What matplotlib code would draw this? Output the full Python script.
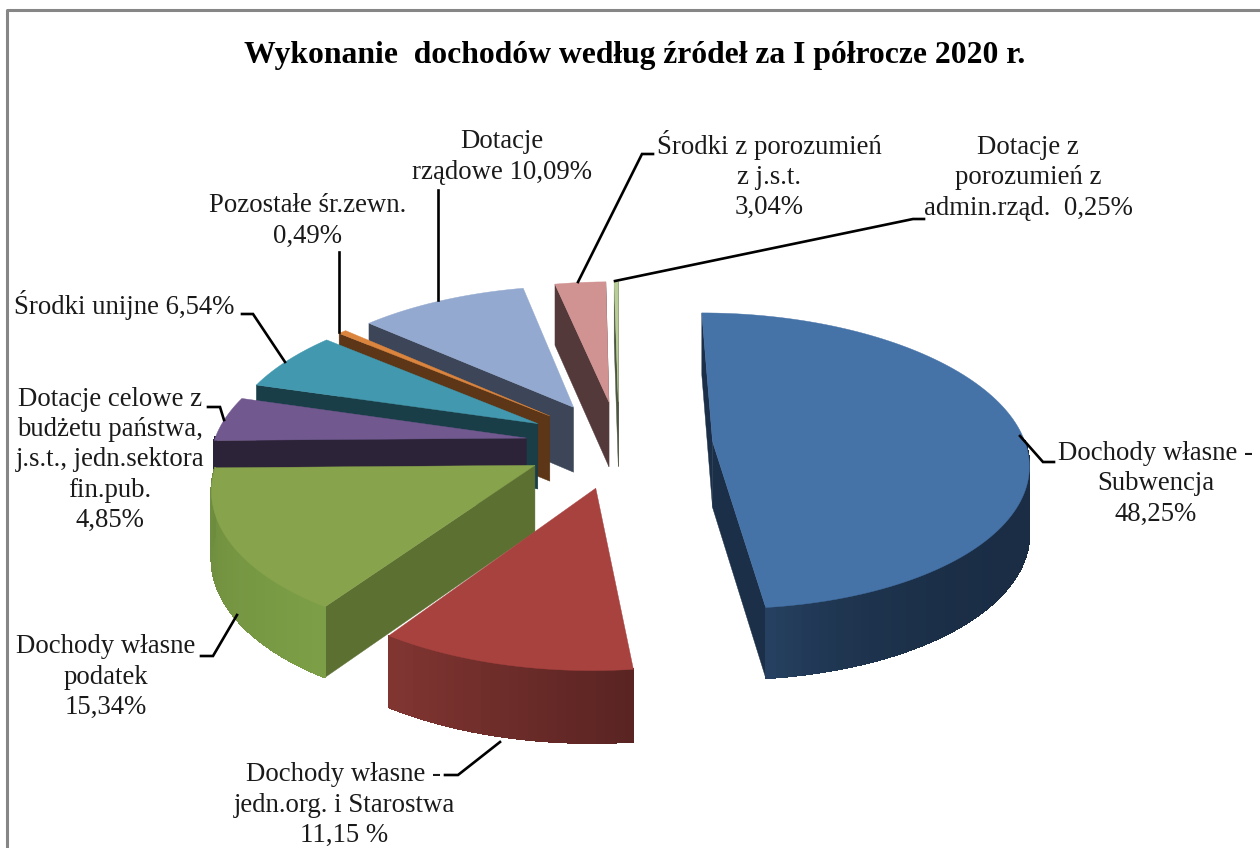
import matplotlib
matplotlib.use('Agg')
import matplotlib.pyplot as plt
import numpy as np

plt.rcParams['font.family'] = ['Liberation Serif', 'DejaVu Serif']

values = [48.25, 11.15, 15.34, 4.85, 6.54, 0.49, 10.09, 3.04, 0.25]
labels = ['Dochody własne -\nSubwencja\n48,25%',
          'Dochody własne -\njedn.org. i Starostwa\n11,15 %',
          'Dochody własne\npodatek\n15,34%',
          'Dotacje celowe z\nbudżetu państwa,\nj.s.t., jedn.sektora\nfin.pub.\n4,85%',
          'Środki unijne 6,54%',
          'Pozostałe śr.zewn.\n0,49%',
          'Dotacje\nrządowe 10,09%',
          'Środki z porozumień\nz j.s.t.\n3,04%',
          'Dotacje z\nporozumień z\nadmin.rząd.  0,25%']
title = 'Wykonanie  dochodów według źródeł za I półrocze 2020 r.'

top_colors = ['#4572A7', '#A8423F', '#87A34C', '#71588F', '#4198AF',
              '#DB843D', '#93A9CF', '#D19392', '#B9CD96']
side_colors = ['#1B3048', '#4D1F1D', '#5C7032', '#2D2338', '#193E48',
               '#5C3616', '#3C4658', '#54393A', '#4C5640']
arc_front = ['#1A2D45', '#5A2422', '#7C9E46', '#2D2338', '#193E48',
             '#5C3616', '#3C4658', '#54393A', '#4C5640']
arc_back = ['#264262', '#823632', '#6E8C3E', '#3A2E4A', '#215060',
            '#6E4018', '#4A566C', '#6A4A4A', '#6A7850']

# text anchor (centre) and leader line for every label, in pixels
label_pos = [(1156, 484), (344, 805), (106, 677), (110, 460), (124, 305),
             (308, 221), (502, 157), (769, 175), (1028, 178)]
leaders = [[(1020, 436), (1043, 462), (1054, 462)],
           [(500, 742), (458, 775), (445, 775)],
           [(237, 615), (213, 656), (201, 656)],
           [(224, 420), (220, 407), (208, 407)],
           [(285, 362), (253, 314), (242, 314)],
           [(339, 332), (339, 252)],
           [(438, 300), (438, 190)],
           [(578, 282), (642, 154), (653, 154)],
           [(615, 281), (913, 219), (924, 219)]]

# projection of the tilted pie
cx, cy = 619, 444
A, B, K = 313, 146, 0.13
DEPTH = 66
EXPLODE = 0.30
DRAW_ORDER = [8, 7, 6, 5, 4, 3, 2, 1, 0]


def project(x, y, z=0.0):
    s = 1 / (1 + K * np.asarray(y))
    return cx + A * np.asarray(x) * s, cy - B * np.asarray(y) * s + z * DEPTH * np.sqrt(s)


def mix(c1, c2, t):
    a = np.array(matplotlib.colors.to_rgb(c1))
    b = np.array(matplotlib.colors.to_rgb(c2))
    return a + (b - a) * t


fig = plt.figure(figsize=(12.6, 8.48), dpi=100)
ax = fig.add_axes([0, 0, 1, 1])
ax.set_xlim(0, 1260)
ax.set_ylim(848, 0)
ax.axis('off')

# chart frame, the right side is cut off in the reference
ax.plot([1260, 7, 7], [10, 10, 848], color='#868686', lw=2.2, solid_capstyle='butt')

edges = np.cumsum([0] + values) * 3.6


def draw_slice(i):
    t1, t2 = np.radians(edges[i]), np.radians(edges[i + 1])
    mid = (t1 + t2) / 2
    ox, oy = EXPLODE * np.sin(mid), EXPLODE * np.cos(mid)
    th = np.linspace(t1, t2, max(int((t2 - t1) * 40), 3))
    ax_x, ax_y = ox + np.sin(th), oy + np.cos(th)

    # radial walls that face the viewer
    for t, sign in ((t1, 1), (t2, -1)):
        if sign * np.sin(t) < 0.02:
            xe, ye = ox + np.sin(t), oy + np.cos(t)
            xs = [ox, xe, xe, ox]
            ys = [oy, ye, ye, oy]
            zs = [0, 0, 1, 1]
            px, py = zip(*[project(a, b, c) for a, b, c in zip(xs, ys, zs)])
            ax.fill(px, py, color=side_colors[i], lw=0.3)

    # outer wall, cut in short strips for the shading
    vis = np.where(np.cos(th) < 0.02)[0]
    for n, j in enumerate(vis[:-1]):
        k = vis[n + 1]
        a = [ax_x[j], ax_x[k], ax_x[k], ax_x[j]]
        b = [ax_y[j], ax_y[k], ax_y[k], ax_y[j]]
        c = [0, 0, 1, 1]
        px, py = zip(*[project(p, q, r) for p, q, r in zip(a, b, c)])
        frac = n / max(len(vis) - 1, 1)
        if i == 0:
            # the big slice only lightens near its front corner
            frac = frac ** 5
        ax.fill(px, py, color=mix(arc_front[i], arc_back[i], frac), lw=0.8, antialiased=False)

    # top face
    px, py = project(np.r_[ox, ax_x], np.r_[oy, ax_y])
    ax.fill(px, py, color=top_colors[i], lw=0.3)


for i in DRAW_ORDER:
    draw_slice(i)

for line in leaders:
    xs, ys = zip(*line)
    ax.plot(xs, ys, color='black', lw=1.9, solid_joinstyle='miter')

for text, (x, y) in zip(labels, label_pos):
    ax.text(x, y, text, ha='center', va='center', fontsize=19.3, color='#1a1a1a', linespacing=1.28)

ax.text(635, 55, title, ha='center', va='center', fontsize=22.8, fontweight='bold', color='black')

fig.savefig('out.png', dpi=100)
